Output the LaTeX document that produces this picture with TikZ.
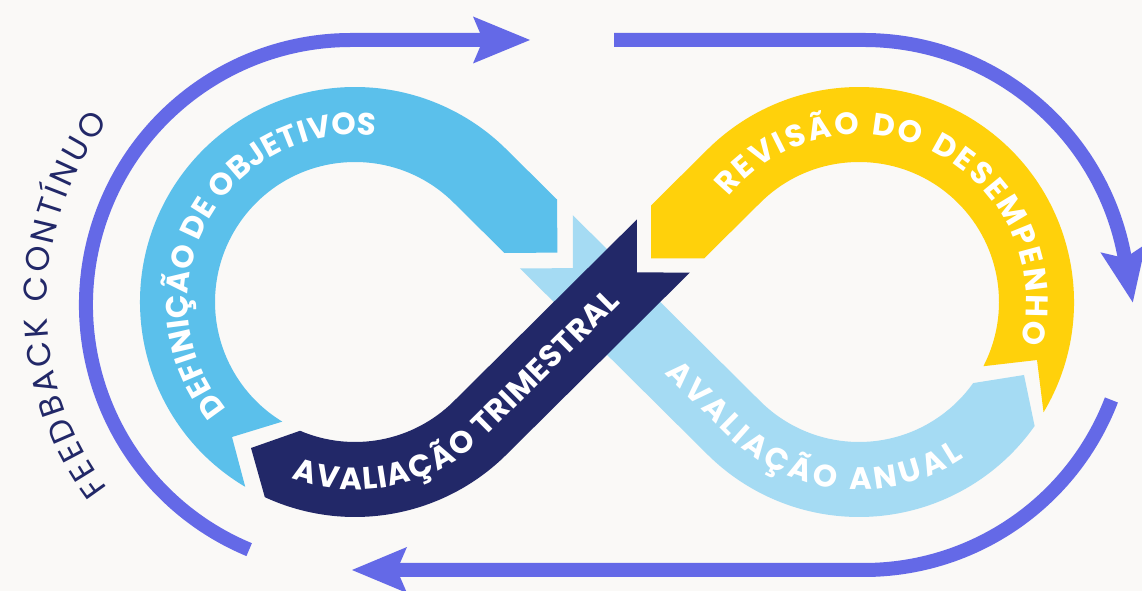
\documentclass[tikz,border=0pt]{standalone}
\usepackage{fontspec}
\setmainfont{Poppins}
\usetikzlibrary{calc,decorations.text}
\definecolor{bg}{HTML}{FAF9F7}
\definecolor{purp}{HTML}{6469E7}
\definecolor{defc}{HTML}{5BC0EB}
\definecolor{anc}{HTML}{A5DBF3}
\definecolor{yelc}{HTML}{FFD10B}
\definecolor{navc}{HTML}{222868}
\newcommand\bandfont{\fontsize{31}{31}\selectfont\bfseries}
\newcommand\fbfont{\fontsize{33}{33}\selectfont}
\tikzset{
  ring/.style={draw=purp, line width=14pt},
  headfill/.style={fill=purp},
  bandtext/.style={decorate, decoration={text along path, text={|\bandfont|#1},
      text align=fit to path, raise=-10.2pt, text color=white}},
  fbtext/.style={decorate, decoration={text along path, text={|\fbfont|#1},
      text align=fit to path, raise=-10.5pt, text color=navc}},
}
\begin{document}
\begin{tikzpicture}[x=1pt,y=1pt]
\path[use as bounding box, fill=bg] (0,0) rectangle (1142,591);
\clip (0,0) rectangle (1142,591);
% centres
\coordinate (L) at (355,289);
\coordinate (R) at (859,289);
\coordinate (M) at (607,289);
\coordinate (CL) at (351,286);
\coordinate (CR) at (864,286);

% ---------- outer feedback ring ----------
\draw[ring] ($(CL)+(247.4:265)$) arc[start angle=247.4, end angle=90, radius=265] -- (483,551);
\fill[headfill] (530,551) -- (473,574.5) -- (483,551) -- (473,527.5) -- cycle;

\draw[ring] (614,551) -- (864,551) arc[start angle=90, end angle=10.2, radius=265] coordinate (rend);
\fill[headfill, shift={(rend)}, rotate=-79.8] (45,0) -- (-10,23) -- (0,0) -- (-10,-23) -- cycle;

\draw[ring] ($(CR)+(-21:265)$) arc[start angle=-21, end angle=-90, radius=265] -- (397,21);
\fill[headfill] (352,21) -- (407,44) -- (397,21) -- (407,-2) -- cycle;

% ---------- infinity bands ----------
% Definicao de objetivos
\fill[defc] ($(L)+(239.3:215)$) arc[start angle=239.3, end angle=45.22, radius=215]
  -- (557.14,391.35) -- (557.33,338.32) -- (504.3,338.13)
  -- ($(L)+(45.22:140)$) arc[start angle=45.22, end angle=238.7, radius=140]
  -- (232,154) -- cycle;
% Revisao do desempenho
\fill[yelc] ($(R)+(-30.87:215)$) arc[start angle=-30.87, end angle=134.78, radius=215]
  -- (651.2,385.7) -- (651,332.7) -- (704.0,332.5)
  -- ($(R)+(134.78:140)$) arc[start angle=134.78, end angle=-27.3, radius=140]
  -- (1037,231) -- cycle;
% Avaliacao anual
\fill[anc] (572.75,375.85) -- ($(R)+(225.22:140)$) arc[start angle=225.22, end angle=324.6, radius=140]
  -- (1024,216) -- ($(R)+(324.77:215)$) arc[start angle=324.77, end angle=225.22, radius=215]
  -- (519.91,322.63) -- (572.94,322.82) -- cycle;
% Avaliacao trimestral
\fill[navc] (636.99,371.62) -- ($(L)+(314.78:140)$) arc[start angle=314.78, end angle=246.9, radius=140]
  -- (251,143) -- ($(L)+(245.2:215)$) arc[start angle=245.2, end angle=314.78, radius=215]
  -- (689.83,318.40) -- (636.80,318.59) -- cycle;

% ---------- texts ----------
\path[bandtext=DEFINIÇÃO DE OBJETIVOS] ($(L)+(219.5:177.5)$) arc[start angle=219.5, end angle=83, radius=177.5];
\path[bandtext=REVISÃO DO DESEMPENHO] ($(R)+(141:177.5)$) arc[start angle=141, end angle=-14, radius=177.5];
\path[bandtext=AVALIAÇÃO TRIMESTRAL] ($(L)+(250:177.5)$) arc[start angle=250, end angle=314.78, radius=177.5] -- (613.6,295.55);
\path[bandtext=AVALIAÇÃO ANUAL] (671.57,224.88) -- ($(R)+(225.22:177.5)$) arc[start angle=225.22, end angle=304, radius=177.5];
\path[fbtext=FEEDBACK CONTÍNUO] ($(CL)+(217:315)$) arc[start angle=217, end angle=143, radius=315];
\end{tikzpicture}
\end{document}
